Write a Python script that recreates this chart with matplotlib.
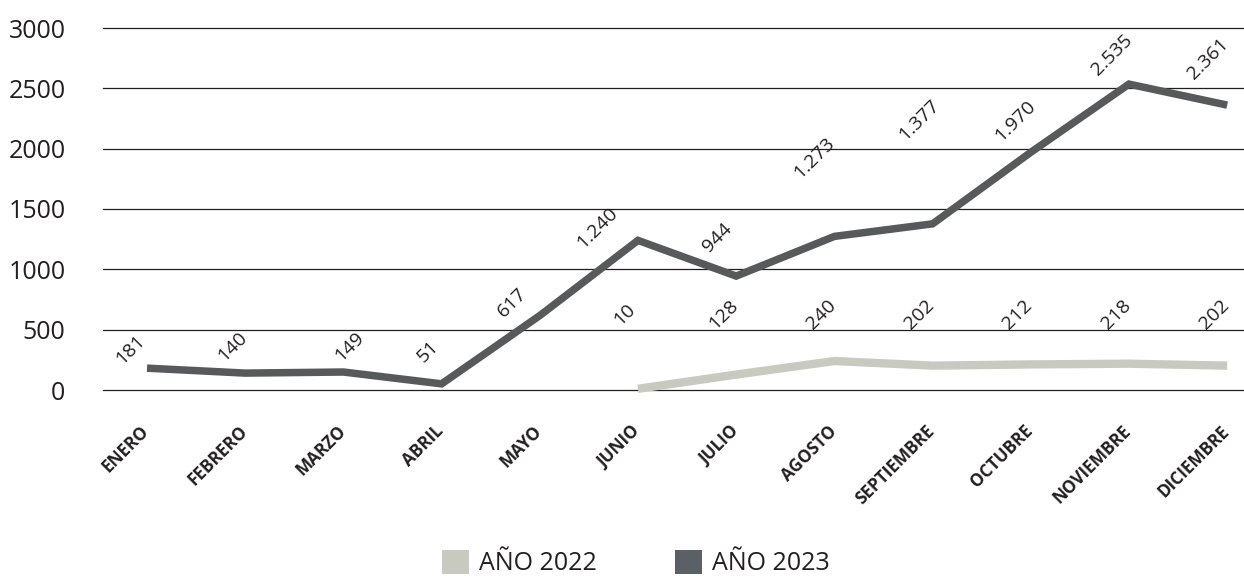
import matplotlib
matplotlib.use("Agg")
import matplotlib.pyplot as plt
import matplotlib.transforms as mtransforms
from matplotlib.patches import Patch

# ---- data ----
months = ["ENERO", "FEBRERO", "MARZO", "ABRIL", "MAYO", "JUNIO", "JULIO",
          "AGOSTO", "SEPTIEMBRE", "OCTUBRE", "NOVIEMBRE", "DICIEMBRE"]
values_2023 = [181, 140, 149, 51, 617, 1240, 944, 1273, 1377, 1970, 2535, 2361]
labels_2023 = ["181", "140", "149", "51", "617", "1.240", "944", "1.273",
               "1.377", "1.970", "2.535", "2.361"]
months_2022 = ["JUNIO", "JULIO", "AGOSTO", "SEPTIEMBRE", "OCTUBRE", "NOVIEMBRE", "DICIEMBRE"]
values_2022 = [10, 128, 240, 202, 212, 218, 202]
labels_2022 = ["10", "128", "240", "202", "212", "218", "202"]
yticks = [0, 500, 1000, 1500, 2000, 2500, 3000]
series_names = ["AÑO 2022", "AÑO 2023"]

# label placement offsets (pixels, relative to the point: dx right, dy up)
label_offsets_2023 = [(-17, 18), (-13, 26), (6, 25), (-14, 32), (-28, 13), (-41, 12),
                      (-19, 38), (-20, 78), (-13, 104), (-16, 31), (-17, 29), (-19, 46)]

col_2022 = "#c8c9bf"
col_2023 = "#58595b"
col_2023_leg = "#5a6065"
txt = "#231f20"

plt.rcParams["font.family"] = ["Open Sans", "DejaVu Sans"]

W, H = 1244, 577
fig = plt.figure(figsize=(W / 100, H / 100), dpi=100)
ax = fig.add_axes([103 / W, (H - 390) / H, (W - 103) / W, (390 - 28) / H])

x23 = list(range(len(months)))
x22 = [months.index(m) for m in months_2022]

ax.plot(x22, values_2022, color=col_2022, lw=6, solid_capstyle="butt",
        solid_joinstyle="miter", clip_on=False, zorder=3)
ax.plot(x23, values_2023, color=col_2023, lw=5.4, solid_capstyle="butt",
        solid_joinstyle="miter", clip_on=False, zorder=4)

ax.set_ylim(0, 3000)
ax.set_xlim((103 - 147) / 98.2, (1244 - 147) / 98.2)
ax.set_yticks(yticks)
ax.set_yticklabels([str(v) for v in yticks])
ax.yaxis.grid(True, color="#231f20", lw=0.9)
for gl in ax.get_ygridlines():
    gl.set_clip_on(False)
ax.set_axisbelow(True)
for s in ax.spines.values():
    s.set_visible(False)
ax.tick_params(axis="y", length=0, pad=27, labelsize=18, labelcolor=txt)
ax.tick_params(axis="x", length=0, pad=23)

ax.set_xticks(x23)
ax.set_xticklabels(months, fontsize=12.3, fontweight="bold", color=txt,
                   rotation=45, ha="right", va="top", rotation_mode="anchor")
shift = mtransforms.ScaledTranslation(-7 / 100, 0, fig.dpi_scale_trans)
for t in ax.get_xticklabels():
    t.set_transform(t.get_transform() + shift)

for xi, v, lab, (dx, dy) in zip(x23, values_2023, labels_2023, label_offsets_2023):
    ax.annotate(lab, (xi, v), xytext=(dx, dy), textcoords="offset pixels",
                rotation=45, ha="center", va="center", fontsize=14, color=txt,
                rotation_mode="anchor")

blend = mtransforms.blended_transform_factory(ax.transData, ax.transAxes)
for xi, lab in zip(x22, labels_2022):
    ax.annotate(lab, (xi, (390 - 315) / 362), xycoords=blend, xytext=(-13, 0),
                textcoords="offset pixels", rotation=45, ha="center", va="center",
                fontsize=14, color=txt, rotation_mode="anchor")

handles = [Patch(facecolor=col_2022, edgecolor="none"),
           Patch(facecolor=col_2023_leg, edgecolor="none")]
fig.legend(handles, series_names, loc="center", bbox_to_anchor=((W / 2 + 14) / W, (H - 563) / H),
           ncol=2, frameon=False, fontsize=18, handlelength=1.1, handleheight=1.1,
           handletextpad=0.4, columnspacing=3.1, labelcolor=txt)

fig.savefig("out.png", dpi=100)
